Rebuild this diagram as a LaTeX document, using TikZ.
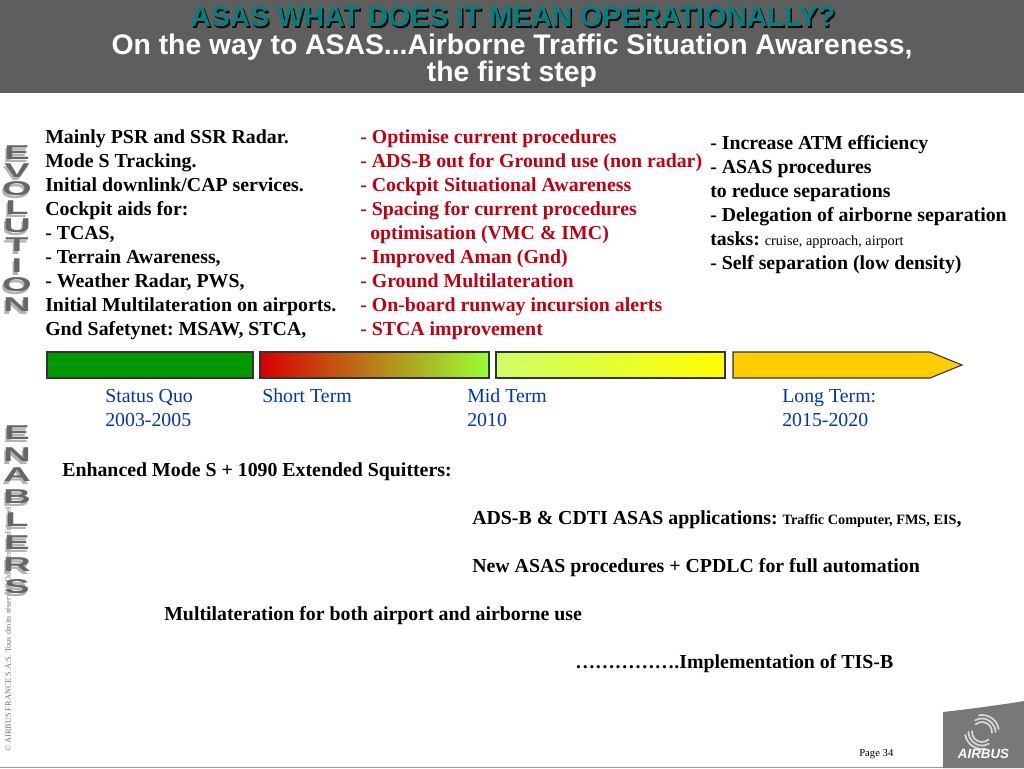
\documentclass[tikz,border=0pt]{standalone}
\usepackage{fontspec}
\setmainfont{Liberation Serif}
\setsansfont{Liberation Sans}
\usetikzlibrary{shadings}
\colorlet{headcol}{black!63}
\definecolor{titlecol}{HTML}{008080}
\definecolor{redcol}{HTML}{C00010}
\definecolor{bluecol}{HTML}{0033BB}
\definecolor{logocol}{HTML}{787878}
\definecolor{swirlcol}{HTML}{D8D8D8}

\begin{document}
\frenchspacing
\begin{tikzpicture}[x=0.75pt, y=-0.75pt,
          txt/.style={font=\fontsize{14.88pt}{18pt}\selectfont\bfseries, align=left, anchor=north west, inner sep=0},
          term/.style={font=\fontsize{14.88pt}{18pt}\selectfont, text=bluecol, align=left, anchor=north west, inner sep=0},
          bar/.style={draw=black!80, line width=0.8pt},
          head/.style={font=\fontsize{21.25pt}{20.3pt}\selectfont\sffamily\bfseries, align=center, inner sep=0},
          wletter/.style={font=\fontsize{15pt}{15pt}\selectfont\sffamily\bfseries, inner sep=0, xscale=1.9},
          swirl/.style={draw=swirlcol, line width=1.3pt, line cap=round}
        ]
        \useasboundingbox (0,0) rectangle (1024,768);

        % ---- header band ----
        \fill[headcol] (0,0) rectangle (1024,93);
        \node[head, text=black] (titleshadow) at (514.5,18.5) {ASAS WHAT DOES IT MEAN OPERATIONALLY?};
        \node[head, text=titlecol] (title) at (513,17) {ASAS WHAT DOES IT MEAN OPERATIONALLY?};
        \node[head, text=white] (subtitle) at (512,61) {On the way to ASAS...Airborne Traffic Situation Awareness,\\the first step};

        % ---- side words ----
        \node[rotate=90, font=\fontsize{6.2pt}{6pt}\selectfont, text=black!55, anchor=west, inner sep=0] (copyright) at (8,752)
          {© AIRBUS FRANCE S.A.S. Tous droits réservés. Document confidentiel.};
        \foreach \ltr/\ypos [count=\i] in {E/153, V/171, O/189, L/208, U/226, T/245, I/266, O/285, N/305} {
          \node[wletter, text=black!30] (evoshadow\i) at (15.5,\ypos+3) {\ltr};
          \node[wletter, text=black!60] (evo\i) at (17,\ypos) {\ltr};
        }
        \foreach \ltr/\ypos [count=\i] in {E/433, N/455, A/475, B/497, L/520, E/543, R/565, S/587} {
          \node[wletter, text=black!30] (enashadow\i) at (15.5,\ypos+3) {\ltr};
          \node[wletter, text=black!60] (ena\i) at (17,\ypos) {\ltr};
        }

        % ---- three columns ----
        \node[txt] (col1) at (45,129.2) {Mainly PSR and SSR Radar.\\Mode S Tracking.\\Initial downlink/CAP services.\\Cockpit aids for:\\- TCAS,\\- Terrain Awareness,\\- Weather Radar, PWS,\\Initial Multilateration on airports.\\Gnd Safetynet: MSAW, STCA,};
        \node[txt, text=redcol] (col2) at (360,129.2) {- Optimise current procedures\\- ADS-B out for Ground use (non radar)\\- Cockpit Situational Awareness\\- Spacing for current procedures\\\hspace*{7.5pt}optimisation (VMC \& IMC)\\- Improved Aman (Gnd)\\- Ground Multilateration\\- On-board runway incursion alerts\\- STCA improvement};
        \node[txt] (col3) at (710,135.2) {- Increase ATM efficiency\\- ASAS procedures\\to reduce separations\\- Delegation of airborne separation\\tasks: {\fontsize{10.7pt}{18pt}\selectfont\mdseries cruise, approach, airport}\\- Self separation (low density)};

        % ---- time line ----
        \draw[bar, fill={rgb,255:red,0;green,153;blue,0}] (47,352) rectangle (253,378);
        \draw[bar, left color=red!85!black, right color={rgb,255:red,153;green,255;blue,51}] (260,352) rectangle (489,378);
        \draw[bar, left color={rgb,255:red,204;green,255;blue,102}, right color=yellow] (496,352) rectangle (725,378);
        \draw[bar, fill={rgb,255:red,255;green,204;blue,0}] (733,352) -- (930,352) -- (962,365) -- (930,378) -- (733,378) -- cycle;

        \node[term] (statusquo) at (105,385) {\strut Status Quo\\2003-2005};
        \node[term] (shortterm) at (262,385) {\strut Short Term};
        \node[term] (midterm) at (467,385) {\strut Mid Term\\2010};
        \node[term] (longterm) at (782,385) {\strut Long Term:\\2015-2020};

        % ---- enablers ----
        \node[txt] (squitter) at (62,462.2) {Enhanced Mode S + 1090 Extended Squitters:};
        \node[txt] (cdti) at (472,510.2) {ADS-B \& CDTI ASAS applications: {\fontsize{10.7pt}{18pt}\selectfont Traffic Computer, FMS, EIS},};
        \node[txt] (cpdlc) at (472,558.2) {New ASAS procedures + CPDLC for full automation};
        \node[txt] (multilat) at (164,606.2) {Multilateration for both airport and airborne use};
        \node[txt] (tisb) at (575,654.2) {…………….Implementation of TIS-B};

        % ---- footer and logo ----
        \fill[black!40] (0,766.5) rectangle (1024,768);
        \fill[logocol] (943,712) .. controls (970,709) and (1000,705) .. (1024,701) -- (1024,768) -- (943,768) -- cycle;
        \foreach \rad/\from/\to in {17/170/80, 13.5/180/60, 10/185/50} {
          \draw[swirl] (982,732) ++(\from:\rad) arc (\from:\to:\rad);
          \draw[swirl] (982,732) ++(\from+180:\rad) arc (\from+180:\to+180:\rad);
        }
        \node[font=\fontsize{10pt}{10pt}\selectfont\sffamily\bfseries\itshape, text=white, inner sep=0] (airbus) at (983.5,754) {AIRBUS};
        \node[font=\fontsize{8pt}{10pt}\selectfont, anchor=west, inner sep=0] (page) at (859,754) {Page 34};
      \end{tikzpicture}
\end{document}
